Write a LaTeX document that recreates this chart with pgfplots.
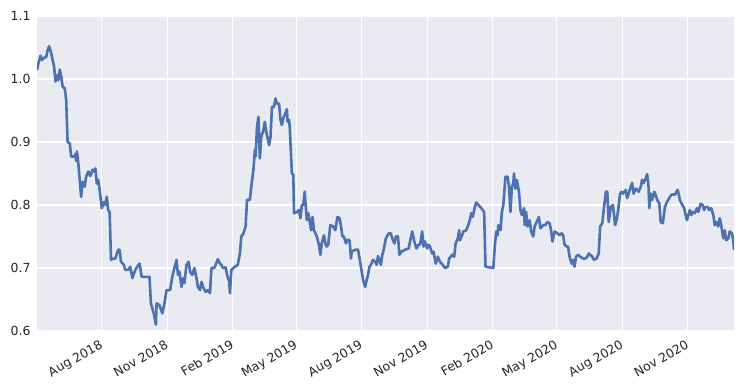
\documentclass[border=0pt]{standalone}
\usepackage{fontspec}
\setmainfont{DejaVu Sans}
\usepackage{pgfplots}
\pgfplotsset{compat=1.18}
\definecolor{bgc}{HTML}{EAEAF2}
\definecolor{linec}{HTML}{4C72B0}
\definecolor{txtc}{HTML}{262626}
\begin{document}
\begin{tikzpicture}
\useasboundingbox (-37pt,-52pt) rectangle (710pt,331pt);
\begin{axis}[
  at={(0pt,0pt)}, anchor=south west,
  scale only axis, width=697pt, height=315pt,
  xmin=121, xmax=1100, ymin=0.6, ymax=1.1,
  axis background/.style={fill=bgc},
  axis line style={draw=none},
  grid=major,
  major grid style={white, line width=1.3pt},
  tick style={draw=none},
  xtick={212,304,396,485,577,669,761,851,943,1035},
  xticklabels={Aug 2018,Nov 2018,Feb 2019,May 2019,Aug 2019,Nov 2019,Feb 2020,May 2020,Aug 2020,Nov 2020},
  x tick label style={rotate=30, anchor=north east, font=\fontsize{12.5}{13}\selectfont, text=txtc, yshift=-2pt, xshift=-3pt},
  ytick={0.6,0.7,0.8,0.9,1.0,1.1},
  yticklabel style={/pgf/number format/fixed, /pgf/number format/fixed zerofill, /pgf/number format/precision=1, /pgf/number format/assume math mode=true, font=\fontsize{12.5}{13}\selectfont, text=txtc, xshift=-3pt},
  scaled y ticks=false,
]
\addplot[color=linec, line width=2.6pt, line join=round] coordinates {
(121,1.014) (123,1.025) (126,1.037) (128,1.030) (130,1.033) (134,1.035) (136,1.046) (138,1.052)
(141,1.041) (143,1.030) (145,1.020) (147,0.996) (149,1.006) (151,0.998) (153,1.015) (155,1.004)
(157,0.988) (160,0.985) (162,0.967) (164,0.900) (167,0.898) (169,0.877) (173,0.877) (175,0.881)
(176,0.870) (177,0.885) (179,0.866) (181,0.840) (183,0.813) (185,0.837) (188,0.829) (190,0.845)
(193,0.853) (196,0.846) (199,0.856) (202,0.853) (203,0.858) (205,0.834) (207,0.840) (209,0.824)
(212,0.795) (215,0.805) (217,0.800) (219,0.813) (221,0.792) (223,0.789) (225,0.713) (227,0.715)
(231,0.715) (235,0.729) (237,0.729) (239,0.710) (243,0.705) (245,0.697) (249,0.697) (252,0.702)
(255,0.684) (258,0.694) (261,0.701) (265,0.707) (268,0.686) (274,0.686) (279,0.686) (281,0.644)
(285,0.628) (288,0.610) (289,0.644) (293,0.641) (297,0.628) (300,0.644) (303,0.665) (308,0.665)
(311,0.686) (314,0.700) (317,0.713) (319,0.689) (321,0.694) (324,0.670) (326,0.684) (328,0.676)
(331,0.705) (334,0.710) (336,0.694) (339,0.689) (342,0.700) (345,0.684) (347,0.670) (350,0.665)
(352,0.678) (355,0.668) (358,0.662) (361,0.665) (364,0.660) (366,0.700) (370,0.700) (372,0.705)
(375,0.714) (378,0.707) (380,0.705) (382,0.700) (386,0.701) (388,0.689) (391,0.678) (392,0.660)
(394,0.697) (399,0.702) (403,0.705) (406,0.723) (408,0.750) (411,0.755) (414,0.766) (416,0.808)
(420,0.808) (422,0.829) (425,0.856) (427,0.887) (428,0.877) (430,0.924) (432,0.940) (434,0.874)
(436,0.908) (439,0.919) (441,0.932) (443,0.916) (447,0.895) (449,0.908) (451,0.956) (454,0.956)
(456,0.969) (458,0.961) (461,0.961) (463,0.935) (465,0.927) (467,0.938) (470,0.946) (472,0.952)
(473,0.932) (475,0.935) (476,0.924) (479,0.850) (481,0.848) (482,0.787) (486,0.789) (489,0.792)
(491,0.779) (493,0.800) (495,0.800) (497,0.821) (500,0.776) (502,0.787) (503,0.781) (506,0.760)
(508,0.781) (510,0.760) (514,0.750) (517,0.737) (519,0.721) (521,0.739) (524,0.752) (526,0.739)
(528,0.734) (530,0.737) (533,0.768) (537,0.766) (540,0.760) (543,0.781) (546,0.779) (548,0.766)
(550,0.750) (552,0.750) (555,0.739) (557,0.745) (560,0.744) (562,0.715) (563,0.726) (568,0.729)
(572,0.729) (576,0.702) (579,0.681) (582,0.670) (584,0.681) (586,0.689) (588,0.702) (590,0.705)
(593,0.713) (596,0.710) (598,0.705) (600,0.719) (604,0.705) (606,0.721) (608,0.729) (611,0.747)
(615,0.755) (618,0.755) (620,0.747) (623,0.739) (625,0.750) (628,0.750) (630,0.721) (633,0.726)
(638,0.729) (643,0.731) (645,0.742) (648,0.758) (651,0.742) (654,0.731) (657,0.737) (659,0.737)
(662,0.758) (664,0.734) (666,0.742) (669,0.731) (671,0.737) (673,0.734) (676,0.723) (678,0.726)
(681,0.707) (684,0.718) (687,0.710) (691,0.705) (694,0.700) (698,0.702) (700,0.715) (704,0.721)
(707,0.718) (709,0.739) (712,0.747) (714,0.760) (715,0.744) (718,0.752) (720,0.758) (724,0.760)
(726,0.766) (729,0.776) (731,0.787) (733,0.781) (736,0.797) (738,0.804) (741,0.800) (745,0.795)
(749,0.789) (751,0.702) (757,0.701) (762,0.700) (764,0.734) (766,0.758) (768,0.752) (769,0.768)
(772,0.760) (774,0.789) (776,0.800) (779,0.845) (782,0.845) (784,0.829) (786,0.789) (788,0.829)
(790,0.835) (791,0.850) (793,0.826) (795,0.840) (798,0.821) (800,0.792) (802,0.784) (805,0.795)
(806,0.768) (808,0.789) (810,0.766) (813,0.776) (815,0.758) (818,0.750) (820,0.766) (822,0.771)
(826,0.781) (828,0.763) (832,0.768) (835,0.768) (838,0.773) (841,0.771) (843,0.760) (845,0.742)
(848,0.758) (852,0.755) (855,0.752) (858,0.755) (860,0.752) (862,0.737) (865,0.734) (867,0.734)
(869,0.718) (872,0.707) (874,0.713) (876,0.702) (878,0.718) (881,0.721) (884,0.718) (888,0.715)
(891,0.715) (894,0.718) (896,0.723) (898,0.721) (901,0.718) (903,0.713) (907,0.715) (910,0.723)
(912,0.766) (915,0.771) (917,0.792) (920,0.821) (922,0.821) (924,0.773) (927,0.797) (930,0.800)
(933,0.768) (935,0.776) (937,0.789) (940,0.818) (942,0.821) (944,0.818) (948,0.824) (950,0.811)
(952,0.818) (955,0.829) (957,0.835) (959,0.818) (962,0.826) (964,0.824) (966,0.821) (969,0.829)
(971,0.840) (973,0.835) (976,0.842) (978,0.849) (980,0.829) (981,0.795) (983,0.818) (985,0.808)
(988,0.821) (990,0.816) (992,0.808) (995,0.803) (997,0.773) (1000,0.771) (1003,0.797) (1006,0.805)
(1010,0.813) (1013,0.817) (1017,0.816) (1019,0.821) (1021,0.824) (1024,0.808) (1026,0.803) (1030,0.795)
(1032,0.784) (1034,0.776) (1035,0.781) (1038,0.792) (1040,0.784) (1042,0.789) (1045,0.787) (1048,0.795)
(1050,0.789) (1053,0.802) (1056,0.800) (1058,0.792) (1060,0.797) (1063,0.797) (1065,0.792) (1068,0.795)
(1071,0.784) (1073,0.768) (1075,0.773) (1078,0.766) (1080,0.779) (1082,0.768) (1085,0.747) (1087,0.760)
(1089,0.744) (1092,0.747) (1094,0.758) (1097,0.755) (1099,0.744) (1100,0.729)
};
\end{axis}
\end{tikzpicture}
\end{document}
